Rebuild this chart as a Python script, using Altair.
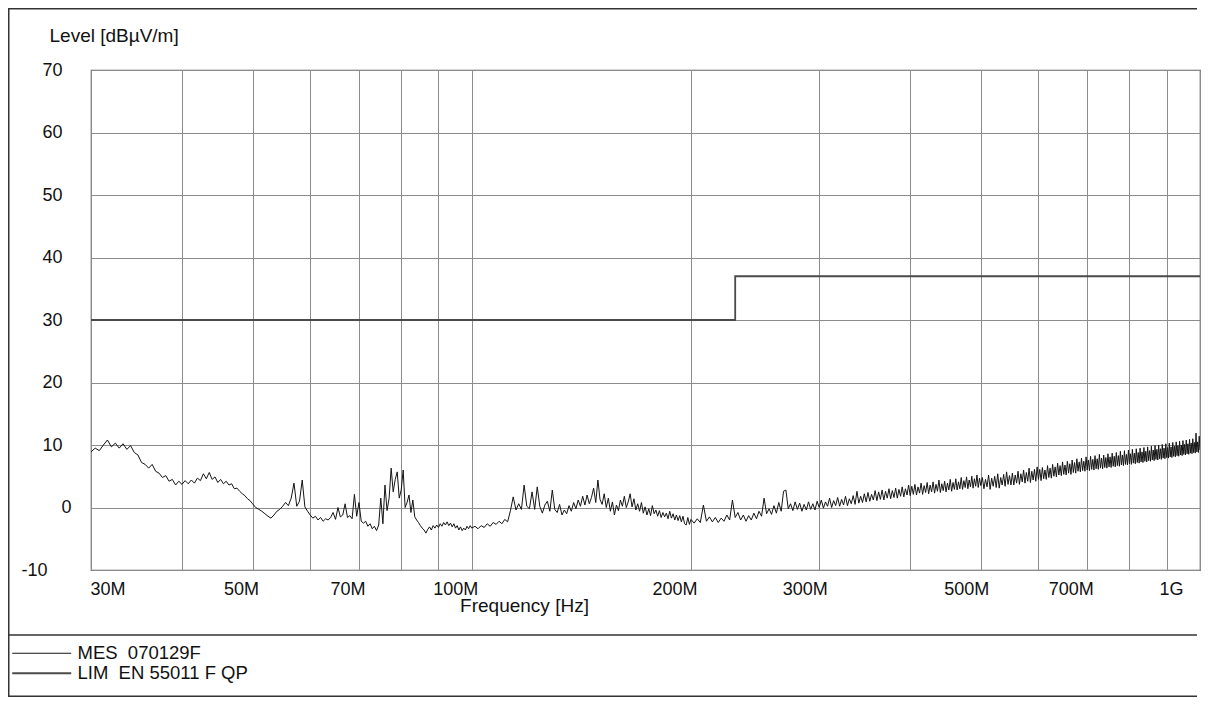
import altair as alt
import pandas as pd

# ---- MES trace: (frequency MHz, level dBuV/m) ----
mes_30_50 = [
    (30.0, 8.9), (30.4, 9.5), (30.8, 9.1), (31.2, 10.0), (31.6, 10.8), (32.0, 9.7), (32.4, 10.3),
    (32.8, 9.5), (33.2, 10.2), (33.6, 9.3), (34.0, 9.9), (34.4, 8.8), (34.8, 8.4), (35.2, 7.2),
    (35.6, 6.9), (36.0, 6.3), (36.4, 6.9), (36.8, 5.8), (37.2, 5.5), (37.6, 4.8), (38.0, 5.1),
    (38.4, 4.2), (38.8, 4.5), (39.2, 3.6), (39.6, 4.2), (40.0, 3.7), (40.4, 4.3), (40.8, 3.8),
    (41.2, 4.4), (41.6, 3.9), (42.0, 4.7), (42.4, 4.3), (42.8, 5.4), (43.2, 4.6), (43.6, 5.6),
    (44.0, 4.5), (44.4, 4.9), (44.8, 4.0), (45.2, 4.5), (45.6, 3.8), (46.0, 4.2), (46.4, 3.6),
    (46.8, 3.8), (47.2, 3.0), (47.6, 3.1), (48.0, 2.6), (48.4, 2.2), (48.8, 1.9), (49.2, 1.4),
    (49.6, 1.1), (50.0, 0.6),
]
mes_50_100 = [
    (50.5, 0.0), (51.0, -0.3), (51.5, -0.6), (52.0, -1.0), (52.5, -1.4), (53.0, -1.7), (53.5, -1.2),
    (54.0, -0.6), (54.5, -0.3), (55.0, 0.2), (55.5, 0.8), (56.0, 0.3), (56.5, 1.5), (57.0, 3.9),
    (57.5, 0.2), (58.0, 1.0), (58.5, 4.4), (59.0, 0.1), (59.5, -0.6), (60.0, -1.2), (60.5, -1.7),
    (61.0, -1.4), (61.5, -2.0), (62.0, -1.6), (62.5, -2.2), (63.0, -1.8), (63.5, -2.0), (64.0, -1.6),
    (64.5, -0.8), (65.0, -1.9), (65.5, 0.0), (66.0, -1.5), (66.5, -1.2), (67.0, 0.6), (67.5, -1.6),
    (68.0, -1.3), (68.5, -1.8), (69.0, 2.1), (69.5, -1.4), (70.0, 0.8), (70.5, -2.2), (71.0, -2.5),
    (71.5, -2.2), (72.0, -3.0), (72.5, -2.6), (73.0, -3.4), (73.5, -3.0), (74.0, -3.7), (74.5, -2.8),
    (75.0, 1.5), (75.5, -2.6), (76.0, 3.6), (76.5, -0.5), (77.0, 1.5), (77.5, 6.3), (78.0, 2.5),
    (78.5, 4.5), (79.0, 5.7), (79.5, 1.5), (80.0, 2.8), (80.5, 6.0), (81.0, 0.0), (81.5, 0.8),
    (82.0, 2.0), (82.5, -0.8), (83.0, 1.2), (83.5, -1.5), (84.0, -2.0), (84.5, -2.4), (85.0, -2.9),
    (85.5, -3.3), (86.0, -3.6), (86.5, -4.1), (87.0, -3.5), (87.5, -3.1), (88.0, -3.6), (88.5, -2.9),
    (89.0, -3.3), (89.5, -2.8), (90.0, -3.2), (90.5, -2.6), (91.0, -3.0), (91.5, -2.4), (92.0, -2.8),
    (92.5, -2.3), (93.0, -2.9), (93.5, -2.5), (94.0, -3.1), (94.5, -2.6), (95.0, -3.3), (95.5, -2.9),
    (96.0, -3.6), (96.5, -3.1), (97.0, -3.7), (97.5, -3.3), (98.0, -3.6), (98.5, -3.0), (99.0, -3.4),
    (99.5, -2.9), (100.0, -3.3),
]
mes_100_200 = [
    (101, -3.0), (102, -3.4), (103, -2.9), (104, -3.2), (105, -2.6), (106, -3.0), (107, -2.4),
    (108, -2.7), (109, -2.2), (110, -2.6), (111, -1.9), (112, -2.3), (113, -0.5), (114, 1.7),
    (115, -0.4), (116, 0.6), (117, -0.3), (118, 3.6), (119, 0.2), (120, -0.2), (121, 2.5),
    (122, -0.3), (123, 3.3), (124, 0.2), (125, -0.9), (126, 0.4), (127, 1.0), (128, -0.6),
    (129, 2.8), (130, -0.3), (131, -0.8), (132, 0.5), (133, -1.2), (134, -0.4), (135, -1.0),
    (136, 0.3), (137, -0.6), (138, 0.8), (139, -0.2), (140, 1.2), (141, 0.2), (142, 1.8),
    (143, 0.4), (144, 2.0), (145, 0.6), (146, 1.6), (147, 3.1), (148, 0.8), (149, 4.4),
    (150, 1.3), (151, 0.5), (152, 2.2), (153, 0.0), (154, 1.5), (155, -0.6), (156, 0.9),
    (157, -1.2), (158, 0.4), (159, -0.5), (160, 1.2), (161, 0.2), (162, 1.8), (163, 0.0),
    (164, 0.9), (165, 2.2), (166, 0.1), (167, 1.4), (168, -0.4), (169, 0.6), (170, -0.6),
    (171, 0.8), (172, -0.9), (173, 0.1), (174, -1.2), (175, -0.2), (176, -1.3), (177, 0.3),
    (178, -1.0), (179, -0.4), (180, -1.4), (181, -0.5), (182, -1.6), (183, -0.8), (184, -1.5),
    (185, -0.9), (186, -1.8), (187, -0.6), (188, -1.7), (189, -1.0), (190, -2.0), (191, -1.2),
    (192, -2.1), (193, -1.3), (194, -2.3), (195, -1.4), (196, -2.6), (197, -2.8), (198, -1.6),
    (199, -2.7), (200, -1.9),
]
mes_200_300 = [
    (202, -2.5), (204, -1.8), (206, -2.4), (208, 0.4), (210, -2.2), (212, -1.5), (214, -2.3),
    (216, -1.6), (218, -2.4), (220, -1.7), (222, -2.2), (224, -1.2), (226, -2.0), (228, 1.2),
    (230, -1.6), (232, -0.8), (234, -2.0), (236, -1.2), (238, -2.2), (240, -1.3), (242, -2.0),
    (244, -0.9), (246, -1.8), (248, -0.6), (250, -1.4), (252, 1.5), (254, -1.0), (256, -0.2),
    (258, -1.1), (260, 0.3), (262, -0.9), (264, 0.8), (266, -0.6), (268, 2.6), (270, 2.8),
    (272, -0.2), (274, 0.6), (276, -0.5), (278, 0.9), (280, -0.3), (282, 0.7), (284, -0.6),
    (286, 0.5), (288, -0.4), (290, 0.9), (292, -0.3), (294, 0.6), (296, -0.4), (298, 1.0),
    (300, 0.0),
]
mes_300_500 = [
    (302, 1.2), (304, -0.1), (306, 0.9), (308, 0.2), (310, 1.5), (312, 0.0), (314, 1.1),
    (316, 0.3), (318, 1.6), (320, 0.2), (322, 1.3), (324, 0.4), (326, 1.8), (328, 0.3),
    (330, 1.4), (332, 0.6), (334, 1.9), (336, 0.5), (338, 2.6), (340, 0.7), (342, 1.8),
    (344, 0.8), (346, 2.2), (348, 0.9), (350, 2.4), (352, 1.0), (354, 2.1), (356, 1.2),
    (358, 2.7), (360, 1.1), (362, 2.5), (364, 1.3), (366, 2.8), (368, 1.2), (370, 2.6),
    (372, 1.5), (374, 3.0), (376, 1.4), (378, 2.7), (380, 1.6), (382, 3.1), (384, 1.5),
    (386, 2.9), (388, 1.8), (390, 3.3), (392, 1.7), (394, 3.0), (396, 2.0), (398, 3.6),
    (400, 1.9), (402, 3.4), (404, 2.1), (406, 3.7), (408, 2.0), (410, 3.3), (412, 2.3),
    (414, 3.9), (416, 2.1), (418, 3.5), (420, 2.4), (422, 4.0), (424, 2.2), (426, 3.6),
    (428, 2.5), (430, 4.1), (432, 2.3), (434, 3.7), (436, 2.6), (438, 4.4), (440, 2.4),
    (442, 3.8), (444, 2.7), (446, 4.2), (448, 2.5), (450, 3.9), (452, 2.8), (454, 4.5),
    (456, 2.6), (458, 4.0), (460, 2.9), (462, 4.6), (464, 2.8), (466, 4.1), (468, 3.0),
    (470, 4.8), (472, 2.9), (474, 4.3), (476, 3.2), (478, 4.9), (480, 3.0), (482, 4.4),
    (484, 3.3), (486, 5.0), (488, 3.1), (490, 4.6), (492, 3.4), (494, 5.2), (496, 3.2),
    (498, 4.7), (500, 3.5),
]
mes_500_1000 = [
    (502.5, 4.8), (505, 3.0), (507.5, 4.5), (510, 3.3), (512.5, 5.2), (515, 2.9), (517.5, 4.7),
    (520, 3.4), (522.5, 5.0), (525, 3.2), (527.5, 5.4), (530, 3.1), (532.5, 4.8), (535, 3.6),
    (537.5, 5.3), (540, 3.4), (542.5, 5.7), (545, 3.7), (547.5, 5.1), (550, 3.6),
    (552.5, 5.5), (555, 3.6), (557.5, 5.2), (560, 3.9), (562.5, 5.8), (565, 3.7), (567.5, 5.4),
    (570, 4.1), (572.5, 6.0), (575, 3.9), (577.5, 5.6), (580, 4.2), (582.5, 6.3), (585, 4.0),
    (587.5, 5.8), (590, 4.4), (592.5, 6.1), (595, 4.2), (597.5, 6.5), (600, 4.5),
    (602.5, 6.1), (605, 4.3), (607.5, 6.4), (610, 4.6), (612.5, 6.0), (615, 4.5), (617.5, 6.7),
    (620, 4.8), (622.5, 6.3), (625, 4.7), (627.5, 6.9), (630, 5.0), (632.5, 6.5), (635, 4.9),
    (637.5, 7.1), (640, 5.2), (642.5, 6.7), (645, 5.1), (647.5, 7.3), (650, 5.3),
    (652.5, 6.8), (655, 5.2), (657.5, 7.4), (660, 5.5), (662.5, 7.0), (665, 5.3), (667.5, 7.6),
    (670, 5.6), (672.5, 7.2), (675, 5.5), (677.5, 7.8), (680, 5.8), (682.5, 7.3), (685, 5.7),
    (687.5, 7.9), (690, 5.9), (692.5, 7.4), (695, 5.8), (697.5, 8.1), (700, 6.0),
    (702.5, 7.6), (705, 5.9), (707.5, 8.2), (710, 6.1), (712.5, 7.7), (715, 6.0), (717.5, 8.3),
    (720, 6.2), (722.5, 7.8), (725, 6.1), (727.5, 8.5), (730, 6.3), (732.5, 7.9), (735, 6.2),
    (737.5, 8.4), (740, 6.4), (742.5, 8.0), (745, 6.3), (747.5, 8.6), (750, 6.5),
    (752.5, 8.1), (755, 6.4), (757.5, 8.7), (760, 6.6), (762.5, 8.2), (765, 6.5), (767.5, 8.8),
    (770, 6.7), (772.5, 8.3), (775, 6.6), (777.5, 9.0), (780, 6.8), (782.5, 8.4), (785, 6.7),
    (787.5, 9.1), (790, 6.9), (792.5, 8.5), (795, 6.8), (797.5, 9.2), (800, 7.0),
    (802.5, 8.6), (805, 6.9), (807.5, 9.3), (810, 7.1), (812.5, 8.7), (815, 7.0), (817.5, 9.4),
    (820, 7.2), (822.5, 8.8), (825, 7.1), (827.5, 9.5), (830, 7.3), (832.5, 8.9), (835, 7.2),
    (837.5, 9.6), (840, 7.4), (842.5, 9.0), (845, 7.3), (847.5, 9.7), (850, 7.5),
    (852.5, 9.1), (855, 7.4), (857.5, 9.8), (860, 7.6), (862.5, 9.2), (865, 7.5), (867.5, 9.9),
    (870, 7.7), (872.5, 9.3), (875, 7.6), (877.5, 10.0), (880, 7.8), (882.5, 9.4), (885, 7.7),
    (887.5, 10.1), (890, 7.9), (892.5, 9.5), (895, 7.8), (897.5, 10.2), (900, 8.0),
    (902.5, 9.6), (905, 7.9), (907.5, 10.3), (910, 8.1), (912.5, 9.7), (915, 8.0), (917.5, 10.4),
    (920, 8.2), (922.5, 9.8), (925, 8.1), (927.5, 10.5), (930, 8.3), (932.5, 9.9), (935, 8.2),
    (937.5, 10.6), (940, 8.4), (942.5, 10.0), (945, 8.3), (947.5, 10.7), (950, 8.5),
    (952.5, 10.1), (955, 8.4), (957.5, 10.8), (960, 8.6), (962.5, 10.2), (965, 8.5), (967.5, 10.9),
    (970, 8.7), (972.5, 10.3), (975, 8.6), (977.5, 11.0), (980, 8.8), (982.5, 10.4), (985, 8.7),
    (987.5, 11.9), (990, 8.9), (992.5, 10.5), (995, 8.8), (997.5, 11.4), (1000, 9.2),
]

# ---- LIM EN 55011 F QP limit line: (MHz, dBuV/m) ----
lim_points = [(30, 30), (230, 30), (230, 37), (1000, 37)]

series_mes = "MES\u00a0 070129F"
series_lim = "LIM\u00a0 EN 55011 F QP"

grid_mhz = [30, 40, 50, 60, 70, 80, 90, 100, 200, 300, 400, 500, 600, 700, 800, 900, 1000]
label_mhz = [30, 50, 70, 100, 200, 300, 500, 700, 1000]
label_txt = ["30M", "50M", "70M", "100M", "200M", "300M", "500M", "700M", "1G"]
y_ticks = [-10, 0, 10, 20, 30, 40, 50, 60, 70]

rows = []
for seg in [mes_30_50, mes_50_100, mes_100_200, mes_200_300, mes_300_500, mes_500_1000]:
    for f, v in seg:
        rows.append({"freq": f * 1e6, "level": v, "series": series_mes, "idx": len(rows)})
for f, v in lim_points:
    rows.append({"freq": f * 1e6, "level": v, "series": series_lim, "idx": len(rows)})
df = pd.DataFrame(rows)

grid_hz = [int(m * 1000000) for m in grid_mhz]
expr = ""
for m, t in zip(label_mhz, label_txt):
    expr += f"datum.value == {int(m * 1000000)} ? '{t}' : "
expr += "''"

FONT = "Liberation Sans"
TXT = "#111111"

x_axis = alt.Axis(
    values=grid_hz, labelExpr=expr, grid=True, gridColor="#8c8c8c", gridWidth=1,
    ticks=False, domain=False, labelFont=FONT, labelFontSize=18, labelColor=TXT,
    labelPadding=19, labelBaseline="middle",
    labelAlign={"condition": {"test": "datum.value == 30000000", "value": "left"}, "value": "right"},
    labelOffset={"condition": [
        {"test": "datum.value == 30000000", "value": -1},
        {"test": "datum.value == 1000000000", "value": -17},
        {"test": "datum.value == 300000000 || datum.value == 500000000", "value": 8},
    ], "value": 6},
    labelFlush=False, labelOverlap=False, labelBound=False,
    title="Frequency [Hz]", titleFont=FONT, titleFontSize=19, titleFontWeight="normal",
    titleColor=TXT, titleX=433, titleY=41, titleAlign="center", titleBaseline="alphabetic",
)
y_axis = alt.Axis(
    values=y_ticks, labelExpr="'' + datum.value", grid=True, gridColor="#8c8c8c", gridWidth=1,
    ticks=False, domain=False,
    labelFont=FONT, labelFontSize=18, labelColor=TXT, labelAlign="right", labelBaseline="middle",
    labelPadding={"condition": [
        {"test": "datum.value == 0", "value": 20},
        {"test": "datum.value == -10", "value": 44},
    ], "value": 29},
    title="Level [dBµV/m]", titleFont=FONT, titleFontSize=19, titleFontWeight="normal",
    titleColor=TXT, titleAngle=0, titleAlign="left", titleBaseline="alphabetic",
    titleX=-42, titleY=-29,
)

legend = alt.Legend(
    title=None, orient="none", legendX=-58.5, legendY=574, symbolType="M-5.9,0H5.9",
    symbolSize=100, symbolStrokeWidth=1.4, labelFont=FONT, labelFontSize=18.5,
    labelColor=TXT, labelOffset=26.5, rowPadding=1, padding=0, labelLimit=400,
)

lines = alt.Chart(df).mark_line(clip=True).encode(
    x=alt.X("freq:Q", scale=alt.Scale(type="log", domain=[30e6, 1e9], nice=False), axis=x_axis),
    y=alt.Y("level:Q", scale=alt.Scale(domain=[-10, 70], nice=False, zero=False), axis=y_axis),
    color=alt.Color("series:N", scale=alt.Scale(domain=[series_mes, series_lim],
                                                 range=["#141414", "#4a4a4a"]), legend=legend),
    strokeWidth=alt.StrokeWidth("series:N", scale=alt.Scale(domain=[series_mes, series_lim],
                                                             range=[1.0, 1.8]), legend=None),
    order=alt.Order("idx:Q"),
)

# page frame (decoration): top, left, bottom borders and the separator above the legend
one = pd.DataFrame({"k": [0]})
FRAME = dict(stroke="#333333", strokeWidth=1.5)
frame_top = alt.Chart(one).mark_rule(**FRAME).encode(
    x=alt.value(-83), x2=alt.value(1106), y=alt.value(-61.25))
frame_left = alt.Chart(one).mark_rule(**FRAME).encode(
    x=alt.value(-82.25), y=alt.value(-62), y2=alt.value(627))
frame_bottom = alt.Chart(one).mark_rule(**FRAME).encode(
    x=alt.value(-83), x2=alt.value(1106), y=alt.value(626.25))
separator = alt.Chart(one).mark_rule(**FRAME).encode(
    x=alt.value(-83), x2=alt.value(1106), y=alt.value(565))

chart = alt.layer(frame_top, frame_left, frame_bottom, separator, lines).properties(
    width=1109, height=500,
    autosize=alt.AutoSizeParams(type="none"),
    padding={"left": 83, "top": 62, "right": 5, "bottom": 127},
    background="white",
).configure_view(stroke="#555555", strokeWidth=1.2)

chart.save("out.html", embed_options={"renderer": "svg", "actions": False})
